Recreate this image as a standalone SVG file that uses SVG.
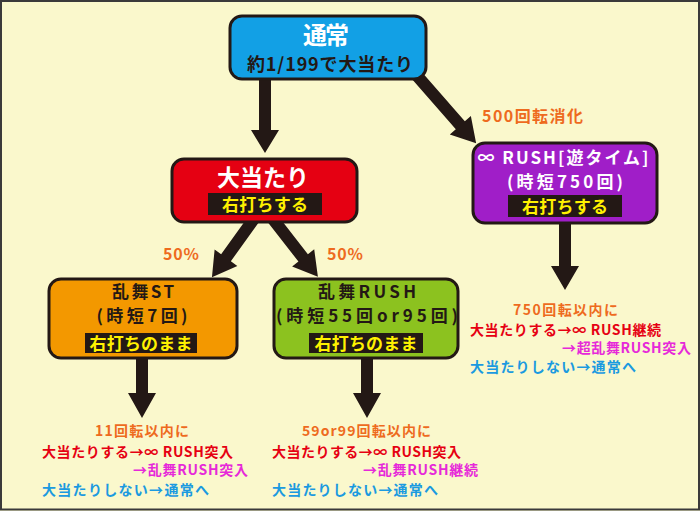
<svg xmlns="http://www.w3.org/2000/svg" width="700" height="511" viewBox="0 0 700 511">
<defs>
<style>
text{font-family:"Noto Sans CJK JP","Noto Sans",sans-serif;font-weight:bold;}
.box{stroke:#231815;stroke-width:3;}
.lbl{fill:#231815;}
.arrow{fill:#231815;}
.w{fill:#ffffff;}
.k{fill:#231815;}
.y{fill:#FFF100;font-size:17px;}
.big{font-size:17px;}
.or{fill:#EE6B1E;}
.rd{fill:#E60012;}
.mg{fill:#E629D9;}
.bl{fill:#1B9AE0;}
.s{font-size:14px;}
.m{text-anchor:middle;}
</style>
</defs>
<rect x="0" y="0" width="700" height="511" fill="#FAF8CC"/>
<rect x="1" y="1" width="698" height="508.5" fill="none" stroke="#3a3a3a" stroke-width="2"/>

<g id="connectors">
  <polygon class="arrow" transform="translate(265,70) rotate(0)" points="-6,0 6,0 6,60 14,60 0,83 -14,60 -6,60"/>
  <polygon class="arrow" transform="translate(405,62) rotate(-41.2)" points="-6,0 6,0 6,84 14,84 0,108 -14,84 -6,84"/>
  <polygon class="arrow" transform="translate(264,205) rotate(35.8)" points="-6,0 6,0 6,65 14,65 0,89 -14,65 -6,65"/>
  <polygon class="arrow" transform="translate(262,205) rotate(-37.9)" points="-6,0 6,0 6,67 14,67 0,91 -14,67 -6,67"/>
  <polygon class="arrow" transform="translate(565,215)" points="-6,0 6,0 6,51 14,51 0,75 -14,51 -6,51"/>
  <polygon class="arrow" transform="translate(142,350)" points="-6,0 6,0 6,43 14,43 0,68 -14,43 -6,43"/>
  <polygon class="arrow" transform="translate(367,350)" points="-6,0 6,0 6,43 14,43 0,68 -14,43 -6,43"/>
  <text class="or" x="482" y="122" font-size="16" textLength="101">500回転消化</text>
  <text class="or" x="163" y="260" font-size="16" textLength="36">50%</text>
  <text class="or" x="327" y="260" font-size="16" textLength="36">50%</text>
</g>

<g id="node-normal">
  <rect class="box" x="230" y="16" width="196" height="63" rx="12" fill="#12A0E5"/>
  <text class="w m" x="326" y="44" font-size="24" textLength="46">通常</text>
  <text class="k m" x="330" y="71" font-size="18" textLength="166">約1/199で大当たり</text>
</g>

<g id="node-hit">
  <rect class="box" x="172" y="159" width="185" height="63" rx="12" fill="#E50012"/>
  <text class="w m" x="263" y="186" font-size="23" textLength="92">大当たり</text>
  <rect class="lbl" x="208" y="193" width="114" height="22"/>
  <text class="y m" x="265" y="211" textLength="86">右打ちする</text>
</g>

<g id="node-inf-rush">
  <rect class="box" x="473" y="143" width="184" height="80" rx="12" fill="#A01EC8"/>
  <text class="w m" x="563" y="164" font-size="17" textLength="171">∞ RUSH[遊タイム]</text>
  <text class="w m" x="565" y="188" font-size="17" textLength="116">(時短750回)</text>
  <rect class="lbl" x="508" y="195" width="114" height="22"/>
  <text class="y m" x="565" y="213" textLength="86">右打ちする</text>
</g>

<g id="node-ranbu-st">
  <rect class="box" x="49" y="279" width="188" height="79" rx="12" fill="#F39800"/>
  <text class="k m big" x="143" y="298" textLength="62">乱舞ST</text>
  <text class="k m big" x="142" y="322" textLength="91">(時短7回)</text>
  <rect class="lbl" x="85" y="333" width="112" height="20"/>
  <text class="y m" x="141" y="350" textLength="103">右打ちのまま</text>
</g>

<g id="node-ranbu-rush">
  <rect class="box" x="274" y="279" width="184" height="79" rx="12" fill="#8CC21F"/>
  <text class="k m big" x="367" y="298" textLength="98">乱舞RUSH</text>
  <text class="k m big" x="367" y="322" textLength="182">(時短55回or95回)</text>
  <rect class="lbl" x="309" y="333" width="114" height="20"/>
  <text class="y m" x="366" y="350" textLength="103">右打ちのまま</text>
</g>

<g id="result-inf-rush">
  <text class="or s" x="513" y="315" textLength="105">750回転以内に</text>
  <text class="rd s" x="470" y="335" textLength="191">大当たりする→∞ RUSH継続</text>
  <text class="mg s" x="562" y="353" textLength="129">→超乱舞RUSH突入</text>
  <text class="bl s" x="470" y="372" textLength="166">大当たりしない→通常へ</text>
</g>

<g id="result-ranbu-st">
  <text class="or s" x="95" y="436" textLength="94">11回転以内に</text>
  <text class="rd s" x="42" y="457" textLength="191">大当たりする→∞ RUSH突入</text>
  <text class="mg s" x="133" y="475" textLength="115">→乱舞RUSH突入</text>
  <text class="bl s" x="42" y="495" textLength="167">大当たりしない→通常へ</text>
</g>

<g id="result-ranbu-rush">
  <text class="or s" x="302" y="436" textLength="129">59or99回転以内に</text>
  <text class="rd s" x="272" y="457" textLength="189">大当たりする→∞ RUSH突入</text>
  <text class="mg s" x="363" y="475" textLength="115">→乱舞RUSH継続</text>
  <text class="bl s" x="272" y="495" textLength="166">大当たりしない→通常へ</text>
</g>
</svg>
